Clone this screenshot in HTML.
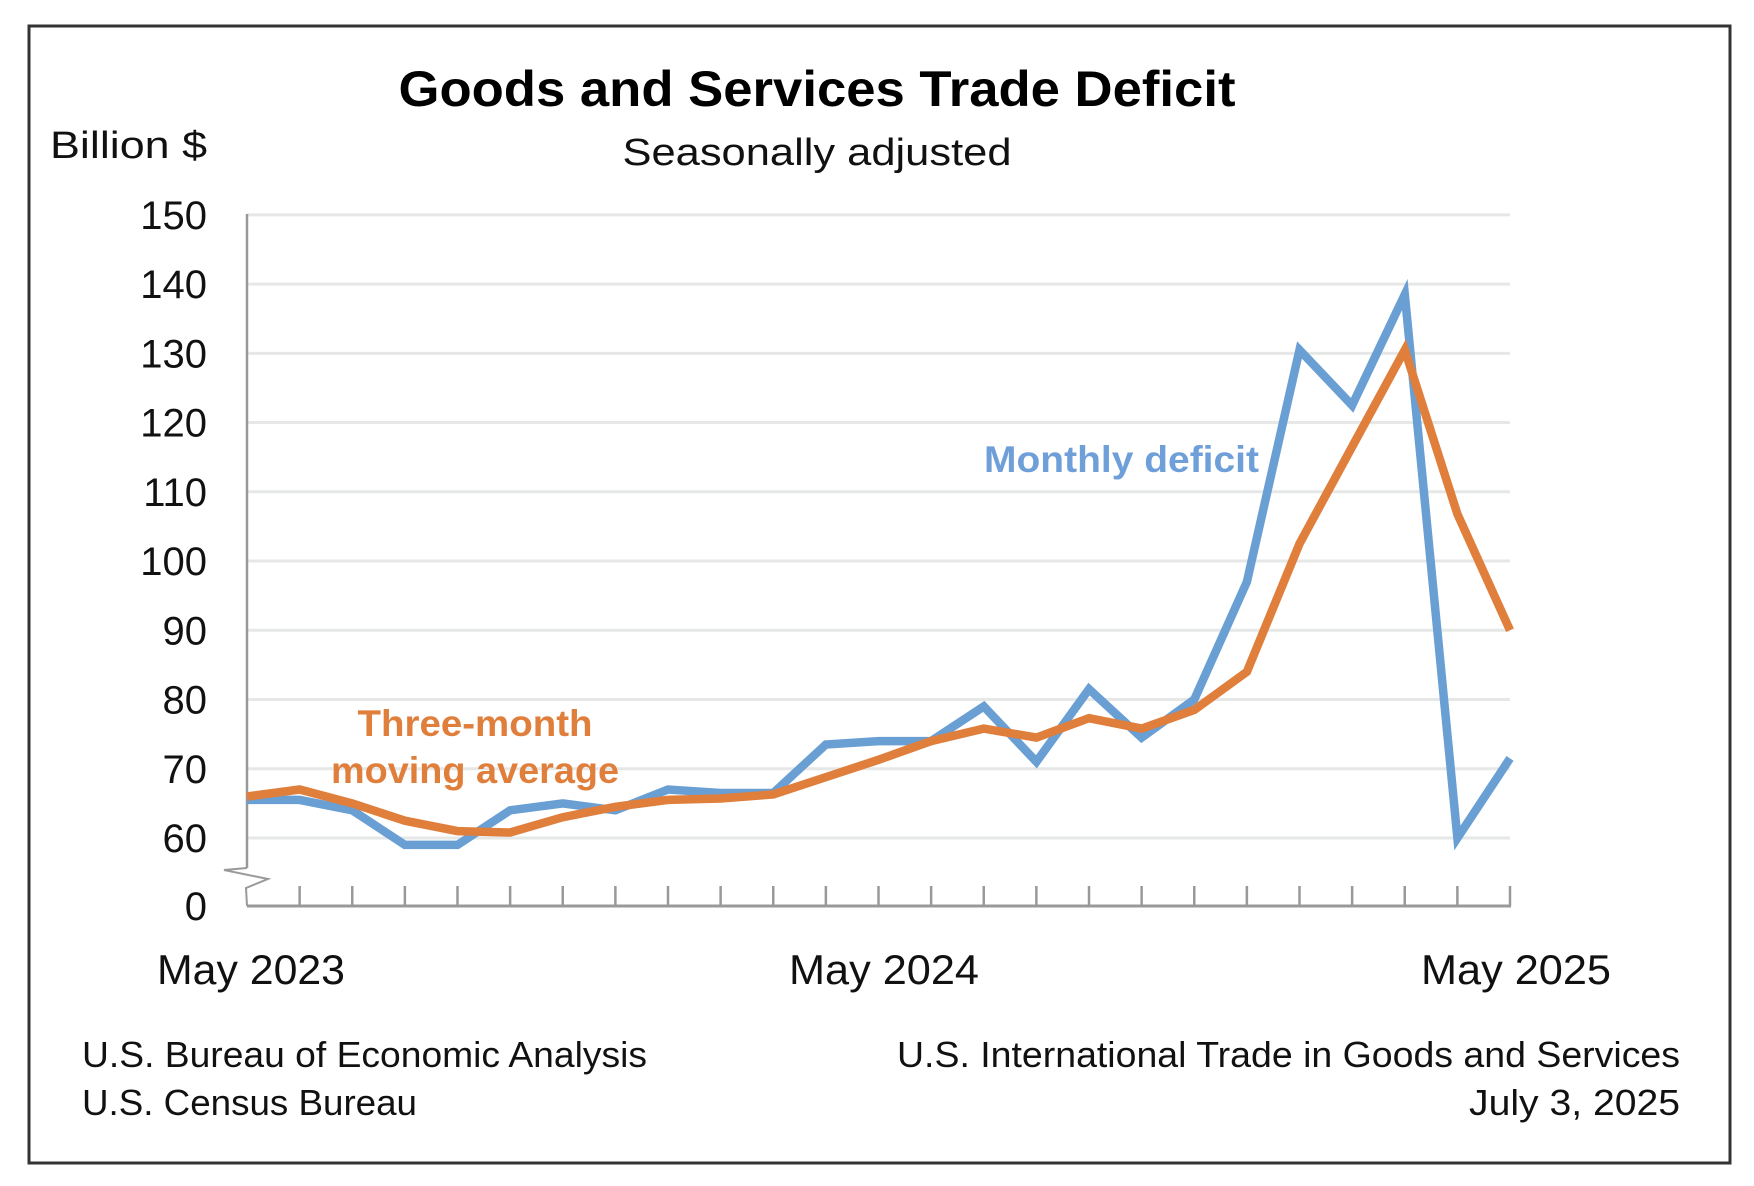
<!DOCTYPE html>
<html><head><meta charset="utf-8"><style>
html,body{margin:0;padding:0;background:#fff;}
svg{display:block;}
text{font-family:"Liberation Sans",sans-serif;}
</style></head><body>
<svg id="s" width="1754" height="1186" viewBox="0 0 1754 1186" xmlns="http://www.w3.org/2000/svg">
<rect x="0" y="0" width="1754" height="1186" fill="#fff"/>
<rect x="29" y="26" width="1701" height="1137" fill="none" stroke="#333" stroke-width="3"/>
<text x="817" y="106" font-size="50" font-weight="bold" text-anchor="middle" textLength="837" lengthAdjust="spacingAndGlyphs" fill="#000">Goods and Services Trade Deficit</text>
<text x="817" y="165" font-size="38" text-anchor="middle" textLength="389" lengthAdjust="spacingAndGlyphs" fill="#111">Seasonally adjusted</text>
<text x="50" y="158" font-size="38" textLength="157" lengthAdjust="spacingAndGlyphs" fill="#111">Billion $</text>
<g id="grid"></g>
<g id="lab" font-size="40" fill="#111" text-anchor="end"></g>
<polyline id="blue" fill="none" stroke="#6a9fd4" stroke-width="8.5" stroke-linejoin="miter"/>
<polyline id="orange" fill="none" stroke="#e07e3c" stroke-width="8.5" stroke-linejoin="miter"/>
<text x="984" y="472" font-size="37" font-weight="bold" fill="#6f9fd8" textLength="275" lengthAdjust="spacingAndGlyphs">Monthly deficit</text>
<text x="475" y="736" font-size="37" font-weight="bold" fill="#e07e3c" text-anchor="middle" textLength="235" lengthAdjust="spacingAndGlyphs">Three-month</text>
<text x="475" y="783" font-size="37" font-weight="bold" fill="#e07e3c" text-anchor="middle" textLength="288" lengthAdjust="spacingAndGlyphs">moving average</text>
<text x="157" y="984" font-size="42" fill="#111" textLength="188" lengthAdjust="spacingAndGlyphs">May 2023</text>
<text x="789" y="984" font-size="42" fill="#111" textLength="190" lengthAdjust="spacingAndGlyphs">May 2024</text>
<text x="1421" y="984" font-size="42" fill="#111" textLength="190" lengthAdjust="spacingAndGlyphs">May 2025</text>
<text x="82" y="1067" font-size="36" fill="#111" textLength="565" lengthAdjust="spacingAndGlyphs">U.S. Bureau of Economic Analysis</text>
<text x="82" y="1115" font-size="36" fill="#111" textLength="335" lengthAdjust="spacingAndGlyphs">U.S. Census Bureau</text>
<text x="1680" y="1067" font-size="36" fill="#111" text-anchor="end" textLength="783" lengthAdjust="spacingAndGlyphs">U.S. International Trade in Goods and Services</text>
<text x="1680" y="1115" font-size="36" fill="#111" text-anchor="end" textLength="211" lengthAdjust="spacingAndGlyphs">July 3, 2025</text>
</svg>
<script>
var NS="http://www.w3.org/2000/svg";
function el(t,a,p){var e=document.createElementNS(NS,t);for(var k in a)e.setAttribute(k,a[k]);p.appendChild(e);return e;}
var x0=247,x1=1510,dx=(x1-x0)/24;
function Y(v){return 838-(v-60)*6.924;}
var g=document.getElementById('grid'),lab=document.getElementById('lab');
for(var v=60;v<=150;v+=10){var y=Y(v);el('line',{x1:x0,x2:x1,y1:y,y2:y,stroke:'#e6e8e8','stroke-width':3},g);
var t=el('text',{x:207,y:y+14},lab);t.textContent=v;}
var t0=el('text',{x:207,y:920},lab);t0.textContent='0';
el('line',{x1:x0,x2:x1+1,y1:906,y2:906,stroke:'#999','stroke-width':3},g);
el('line',{x1:x0,x2:x0,y1:214,y2:838+30,stroke:'#999','stroke-width':2.5},g);
el('polyline',{points:(x0)+','+868+' '+(224)+','+870+' '+(268)+','+879+' '+(246)+','+888+' '+x0+','+906,fill:'none',stroke:'#999','stroke-width':2},g);
for(var i=1;i<=24;i++){var x=x0+i*dx;el('line',{x1:x,x2:x,y1:886,y2:906,stroke:'#999','stroke-width':2.5},g);}
var b=[65.5,65.5,64,59,59,64,65,64,67,66.5,66.5,73.5,74,74,79,71,81.5,74.5,80,97,130.5,122.5,138.5,60,71.5];
var o=[66,67,65,62.5,61,60.8,63,64.5,65.5,65.7,66.3,68.8,71.3,74,75.8,74.5,77.3,75.8,78.5,84,102.5,116.5,130.5,106.8,90];
function pts(a){return a.map(function(v,i){return (x0+i*dx).toFixed(1)+','+Y(v).toFixed(1);}).join(' ');}
document.getElementById('blue').setAttribute('points',pts(b));
document.getElementById('orange').setAttribute('points',pts(o));
</script>
</body></html>
